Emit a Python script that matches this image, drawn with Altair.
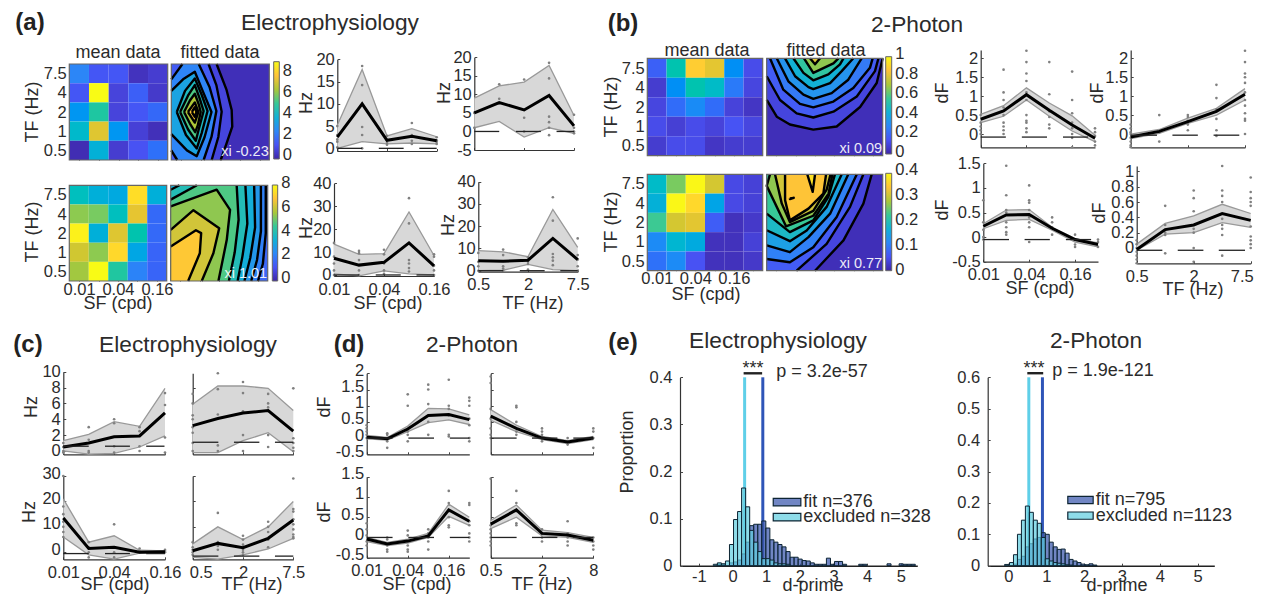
import altair as alt
import pandas as pd

PAD = 8
W, H = 1246, 586
FONT = "Liberation Sans"
TXT = "#2b2b2b"
TICK = 16.5

# ---------------- colour map (parula stops) ----------------
PARULA = ["#3e26a8", "#4852f4", "#2d87f7", "#12b1d6", "#37c897", "#abc739", "#fec338", "#f9fb15"]


def parula(t):
    t = max(0.0, min(1.0, t)) * 7
    i = min(int(t), 6)
    f = t - i
    a, b = PARULA[i], PARULA[i + 1]
    c = [round(int(a[k:k + 2], 16) * (1 - f) + int(b[k:k + 2], 16) * f) for k in (1, 3, 5)]
    return "#%02x%02x%02x" % tuple(c)


# ---------------- heat maps: rows top (7.5 Hz) to bottom (0.5 Hz) ----------------
A1_MEAN = [[2.2, 1.0, 1.0, 0.0, 0.3], [1.0, 8.8, 0.5, 1.2, 0.2], [2.6, 4.7, 0.5, 1.0, 1.4],
           [3.9, 7.0, 2.6, 0.4, -0.1], [-0.2, 3.5, 0.3, 0.9, 1.6]]
A2_MEAN = [[3.75, 3.1, 2.9, 7.2, 3.1], [5.2, 5.0, 3.75, 6.3, 1.3], [7.6, 3.1, 6.2, 4.0, 1.3],
           [6.0, 5.2, 7.1, 2.8, 1.2], [5.4, 7.8, 4.2, 1.9, 1.2]]
B1_MEAN = [[0.15, 0.5, 0.85, 0.78, 0.28, 0.1], [0.05, 0.28, 0.5, 0.45, 0.22, 0.08],
           [0.08, 0.18, 0.27, 0.18, 0.07, 0.03], [0.1, 0.06, 0.1, 0.07, 0.12, 0.08],
           [0.05, 0.1, 0.1, 0.03, 0.05, 0.05]]
B2_MEAN = [[0.18, 0.25, 0.38, 0.3, 0.04, 0.03], [0.16, 0.38, 0.35, 0.14, 0.04, 0.03],
           [0.22, 0.3, 0.31, 0.06, 0.01, 0.02], [0.11, 0.17, 0.15, 0.01, 0.01, 0.03],
           [0.08, 0.11, 0.05, 0.01, 0.01, 0.02]]
TF_LABELS = ["0.5", "1", "2", "4", "7.5"]
SF_LABELS = ["0.01", "0.04", "0.16"]
TF3_LABELS = ["0.5", "2", "7.5"]

# ---------------- fitted contours: (colour level, closed outline in SF/TF grid units) ----------------
A1_FIT = [
    (0.10, [(0, 0), (0, 5), (2.31, 5), (2.82, 3.65), (3.08, 2.6), (3.11, 1.74), (2.82, .87), (2.52, 0)]),
    (0.17, [(0, 0), (0, 5), (1.9, 5), (2.3, 3.9), (2.57, 2.52), (2.4, 1.2), (2.06, 0)]),
    (0.28, [(0, .5), (0, 4.2), (.57, 5), (1.4, 5), (1.95, 3.8), (2.3, 2.55), (2.05, 1.2), (1.65, 0), (.3, 0)]),
    (0.38, [(0, 1.35), (0, 3.6), (.6, 4.2), (1.2, 4.6), (1.6, 3.6), (2.05, 2.5), (1.7, 1.2), (1.3, .2), (.8, .5)]),
    (0.48, [(.28, 2.5), (.7, 3.6), (1.2, 4.25), (1.55, 3.4), (1.85, 2.55), (1.55, 1.4), (1.3, .6), (.75, 1.3)]),
    (0.60, [(.45, 2.5), (.85, 3.35), (1.2, 3.9), (1.45, 3.2), (1.65, 2.55), (1.4, 1.6), (1.25, 1.0), (.85, 1.6)]),
    (0.72, [(.65, 2.5), (.95, 3.1), (1.2, 3.45), (1.4, 2.9), (1.5, 2.5), (1.35, 1.8), (1.22, 1.45), (.95, 1.9)]),
    (0.85, [(.85, 2.5), (1.2, 3.0), (1.38, 2.5), (1.2, 1.95)]),
    (0.90, [(1.05, 2.5), (1.2, 2.75), (1.28, 2.5), (1.2, 2.25)]),
]
A2_FIT = [
    (0.27, [(0, 0), (0, 5), (4.9, 5), (4.9, 2.5), (4.75, .9), (4.5, 0)]),
    (0.34, [(0, 0), (0, 5), (4.65, 5), (4.65, 2.6), (4.45, 1.1), (4.15, 0)]),
    (0.42, [(0, 0), (0, 5), (4.3, 5), (4.35, 2.8), (4.1, 1.2), (3.8, 0)]),
    (0.50, [(0, 0), (0, 4.77), (.45, 5), (3.85, 5), (3.95, 3), (3.7, 1.3), (3.45, 0)]),
    (0.60, [(0, 0), (0, 4.25), (1.35, 5), (3.4, 5), (3.5, 3.2), (3.3, 1.5), (3.0, 0)]),
    (0.68, [(0, 0), (0, 3.9), (2.37, 4.77), (3.06, 3.72), (2.89, 2.15), (2.46, 0)]),
    (0.78, [(0, 0), (0, 2.67), (1.17, 3.7), (2.5, 2.76), (2.2, 1.45), (1.6, 0)]),
    (0.87, [(0, 0), (0, 1.8), (1.3, 2.65), (1.57, 2.5), (1.5, 1.45), (.9, 0)]),
]
B1_FIT = [
    (0.10, [(0, 5), (0, 2.86), (.52, 2.0), (1.2, 1.6), (2.41, 1.34), (3.62, 1.5), (4.83, 2.5), (5.69, 3.73), (6, 5)]),
    (0.17, [(0, 5), (0, 4.08), (.69, 2.86), (1.55, 2.17), (2.41, 1.96), (3.45, 2.26), (4.66, 3.04), (5.6, 4.34), (5.78, 5)]),
    (0.25, [(.17, 5), (.86, 3.39), (1.72, 2.66), (2.41, 2.48), (3.45, 2.78), (4.48, 3.47), (5.34, 4.51), (5.48, 5)]),
    (0.33, [(.52, 5), (1.12, 3.82), (1.9, 3.13), (2.41, 2.92), (3.36, 3.21), (4.22, 3.9), (4.91, 5)]),
    (0.43, [(.95, 5), (1.47, 4.08), (2.16, 3.52), (2.41, 3.42), (3.28, 3.73), (3.88, 4.34), (4.48, 5)]),
    (0.55, [(1.38, 5), (1.9, 4.25), (2.41, 3.87), (3.19, 4.17), (3.79, 4.69), (3.97, 5)]),
    (0.68, [(1.93, 5), (2.41, 4.25), (3.45, 4.74), (3.71, 5)]),
    (0.80, [(2.24, 5), (2.5, 4.69), (2.76, 5)]),
]
B2_FIT = [
    (0.10, [(0, 0), (2.5, 0), (3.97, 1.57), (5.0, 3.48), (5.43, 5), (0, 5)]),
    (0.17, [(0, 0), (1.55, 0), (3.1, 1.39), (4.31, 3.31), (5, 5), (0, 5)]),
    (0.27, [(0, .61), (1.2, .44), (2.41, 1.22), (3.62, 2.79), (4.66, 5), (0, 5)]),
    (0.37, [(0, 1.31), (1.2, .96), (2.16, 1.74), (3.28, 2.96), (4.22, 5), (0, 5)]),
    (0.47, [(0, 2.1), (1.2, 1.53), (2.07, 2.09), (3.1, 3.31), (3.88, 5), (0, 5)]),
    (0.57, [(0, 2.96), (1.2, 2), (2.41, 2.61), (3.19, 3.83), (3.53, 5), (0, 5)]),
    (0.68, [(.17, 5), (0, 4.4), (1, 2.3), (2.41, 2.85), (3.2, 4), (3.4, 5)]),
    (0.78, [(.43, 5), (.78, 3.48), (1.2, 2.52), (2.41, 3.1), (3.1, 4.2), (3.3, 5)]),
    (0.86, [(.95, 5), (.95, 3.66), (1.2, 2.61), (2.16, 3.22), (2.93, 4.0), (3.07, 5)]),
    (0.93, [(2.1, 5), (2.38, 4.09), (2.5, 5)]),
    (0.86, [(1.2, 3.75), (1.4, 3.78), (1.2, 3.72)]),
]

# ---------------- tuning curves ----------------
LINES = {
    "a3": dict(box=(337.3, 436.7, 151, 59.3), dom=(-.6, 20), ticks=[0, 5, 10, 15, 20], n=5,
               mean=[2.5, 10, 1.8, 2.7, 1.7], up=[5.2, 17.7, 2.8, 4.4, 2.6], lo=[0, 1.5, 1.0, 1.2, 1.0],
               dots=[[5, 3, 2, 1.5, .2], [18.5, 14.2, 4.8, 3, 0], [2.8, 1.8, 1.2, .8], [5.7, 3, 1.7, 1], [2.5, 1.8, 1.5, 1]],
               dash=[(0, 1), (1.67, 2.67), (3.3, 4)], dy=0),
    "a4": dict(box=(474.3, 574, 150, 57.3), dom=(-5, 20), ticks=[-5, 0, 5, 10, 15, 20], n=5,
               mean=[5, 7.8, 5.8, 9.7, 1.5], up=[9, 12.3, 13.3, 17.8, 4.3], lo=[1, 2.7, -1.5, 1, -.5],
               dots=[[5, 1], [12.7, 8.8, 7.5], [14, 3.7, 0], [18.5, 14.3, 4, 2.5, 1, -1], [4.5, 1, -.5, 0]],
               dash=[(0, 1), (1.67, 2.67), (3.3, 4)], dy=0),
    "a5": dict(box=(334, 434, 276, 183.3), dom=(-.45, 40), ticks=[0, 10, 20, 30, 40], n=5, xl=SF_LABELS,
               mean=[7.3, 4.3, 5.5, 14, 4], up=[13.5, 9, 9.3, 27.5, 8.5], lo=[.5, -.4, 1.8, .5, 0],
               dots=[[14, 8, 5, 2, 0], [10.5, 9.5, 6.5, 2, 0], [11, 9, 5, 2, .5], [33.5, 22.5, 6.5, 5, 3, 1.5], [9, 8, 4, 2, 0]],
               dash=[(0, 1), (1.67, 2.67), (3.3, 4)], dy=0),
    "a6": dict(box=(478.3, 577.7, 271.7, 181.7), dom=(-.45, 40), ticks=[0, 10, 20, 30, 40], n=5, xl=TF3_LABELS,
               mean=[4.5, 4.3, 4.7, 14.5, 5], up=[9, 8.5, 6.3, 27.5, 10.5], lo=[0, .2, 2.8, .5, 0],
               dots=[[8, 4, 2, 0], [9.5, 7, 2, 1, 0], [6, 4, 3, .5], [33, 22.5, 7.5, 6, 4.5, 2.5], [14.5, 7, 5, 2, 0]],
               dash=[(0, 1), (1.67, 2.67), (3.3, 4)], dy=0),
    "b3": dict(box=(980.7, 1095, 147.3, 50), dom=(-.35, 2.22), ticks=[0, .5, 1, 1.5, 2], n=6,
               mean=[.39, .61, 1.04, .63, .24, -.11], up=[.52, .75, 1.22, .82, .48, -.03], lo=[.3, .47, .9, .47, .08, -.2],
               dots=[[.5, .3, .2, .1, 0], [1.7, 1.1, .9, .7, .5, .3, .2, .1, 0], [2.2, 1.9, 1.6, 1.4, 1.1, .9, .5, .35, .3, .15, .05],
                     [1.9, 1.05, .6, .45, .25, .15], [1.65, .9, .55, .3, .15, 0, -.1, -.35], [.15, .05, -.05, -.2, -.3]],
               dash=[(0, 1.1), (1.8, 2.9), (3.6, 4.7)], dy=-.08),
    "b4": dict(box=(1130.7, 1245, 147.3, 50), dom=(-.35, 2.22), ticks=[0, .5, 1, 1.5, 2], n=5,
               mean=[-.08, .07, .33, .6, 1.05], up=[0, .12, .42, .68, 1.2], lo=[-.12, .02, .28, .5, .9],
               dots=[[.25, .15, .05, 0, -.1, -.2, -.3, -.35], [.5, .05, -.2], [.5, .45, .35, .3, .25, .1],
                     [1.3, .95, .65, .4, .1, -.05], [2.2, 1.9, 1.6, 1.5, 1.35, 1.1, .9, .75, .55, .4, .35, 0]],
               dash=[(0, .92), (1.46, 2.35), (2.9, 3.8)], dy=-.03),
    "b5": dict(box=(983.3, 1098, 261.7, 163.3), dom=(-.5, 1.5), ticks=[-.5, 0, .5, 1, 1.5], n=6, xl=SF_LABELS,
               mean=[.22, .45, .46, .18, -.05, -.15], up=[.27, .55, .56, .2, -.03, -.12], lo=[.17, .34, .36, .14, -.1, -.2],
               dots=[[.75, .3, .15, 0, -.05], [1.45, .85, .55, .5, .3, .2, .1, .05], [1.05, .75, .7, .55, .4, .3, .2, -.1],
                     [.4, .3, .2, .05], [.05, -.05, -.15, -.2], [-.05, -.1, -.2]],
               dash=[(0, 1.12), (1.8, 2.9), (3.6, 4.7)], dy=-.05),
    "b6": dict(box=(1136.7, 1250.7, 263.3, 166), dom=(-.2, 1.07), ticks=[0, .2, .4, .6, .8, 1], n=5, xl=["0.5", "2", ""],
               extra=(4, "7.5", -9),
               mean=[-.02, .24, .3, .45, .36], up=[.05, .32, .42, .57, .45], lo=[-.03, .18, .2, .33, .27],
               dots=[[.1, .05, 0, -.05, -.1, -.15, -.2], [.55, .3, .2, .17, -.07], [.75, .65, .48, .25, .2, 0, -.18],
                     [1.07, .75, .68, .6, .38, .3, .25, .17, -.1], [.92, .73, .65, .6, .55, .28, .15, .1, .05, 0]],
               dash=[(0, .9), (1.44, 2.34), (2.88, 3.8)], dy=-.03),
    "c1": dict(box=(63.3, 165, 454.3, 371.7), dom=(-.42, 10), ticks=[0, 2, 4, 6, 8, 10], n=5,
               mean=[.5, 1, 1.8, 1.9, 4.8], up=[1.3, 2.1, 3.7, 3.1, 7.9], lo=[0, -.4, -.3, .5, 1.9],
               dots=[[1, .5, 0, -.2], [3, 1.4, 0, -.2], [4, 3.5, .6, -.2], [3, 2.5, .6, 0], [7.3, 5.8, 1.7, -.2]],
               dash=[(0, 1), (1.64, 2.62), (3.26, 3.98)], dy=.6),
    "c2": dict(box=(192.7, 293.3, 454.3, 373.3), dom=(-.42, 9.8), ticks=[0, 2, 4, 6, 8], n=5, nolab=True,
               mean=[3.2, 4.1, 4.8, 5.1, 2.5], up=[5.9, 8.2, 8.2, 7.9, 5.1], lo=[-.2, -.2, 1.3, 2.3, -.1],
               dots=[[7.2, 6, 4.5, 4, 3, 2.3, 1, 0], [9.8, 7.8, 4.6, .7, 0], [8.7, 7.3, 5, 2, 0], [7.2, 6, 5.5, 2, .5], [7.9, 1.6, 1, .4, 0]],
               dash=[(0, 1.02), (1.64, 2.65), (3.27, 4)], dy=1.1),
    "c3": dict(box=(63.3, 165, 559.3, 476), dom=(-2.75, 30), ticks=[0, 10, 20, 30], n=5, xl=SF_LABELS, lo_off=-3,
               mean=[13.5, 1.5, 2, 0, .2], up=[21, 4, 6.5, .8, .6], lo=[6, -1, -2.7, -.3, -.2],
               dots=[[30, 18, 15, 12, 10, 8, 6], [4, 2, 0, -2], [11, 2, 0, -2], [1.5, .5, 0], [1, .5, 0]],
               dash=[(0, 1), (1.64, 2.62), (3.26, 4)], dy=-.5),
    "c4": dict(box=(192.7, 293.3, 559.3, 476), dom=(-2.75, 30), ticks=[0, 10, 20, 30], n=5, xl=["", "2", "7.5"], nolab=True,
               extra=(0, "0.5", 8),
               mean=[.6, 3.5, 1.8, 5.5, 12.7], up=[3.3, 10, 5, 10, 20], lo=[-2, -2.7, -1, 1.3, 5.5],
               dots=[[4, 2, 1, 0, -1], [15.5, 4, 2.5, 1], [6.5, 5, 3, 1, 0, -1], [12, 10, 8, 5, 2], [29, 17, 16, 13, 11, 9, 7, 6, 5.5]],
               dash=[(0, 1.02), (1.64, 2.65), (3.27, 4)], dy=-1.5),
    "d1": dict(box=(366.7, 469.3, 454.3, 373.3), dom=(-.5, 2), ticks=[-.5, 0, .5, 1, 1.5, 2], n=6, lo_off=-3,
               mean=[.03, -.02, .28, .7, .73, .57], up=[.08, .02, .37, .92, .9, .72], lo=[-.02, -.06, .2, .48, .56, .42],
               dots=[[.4, .3, .2, .1, 0], [.15, .1, 0, -.1, -.3], [1.35, 1, .2, .1, -.1], [1.65, 1.5, 1.05, .5, .1],
                     [1.8, 1, .9, .7, .1, .05], [1.25, 1.15, 1, .6, .4, 0, -.1]],
               dash=[(0, 1.26), (2.03, 3.28), (4.05, 5)], dy=0),
    "d2": dict(box=(490.7, 593.3, 454.3, 373.3), dom=(-.5, 2), ticks=[-.5, 0, .5, 1, 1.5, 2], n=5, nolab=True,
               mean=[.68, .3, 0, -.12, 0], up=[.88, .4, .05, -.08, .05], lo=[.55, .2, -.05, -.17, -.05],
               dots=[[1.9, 1.7, .9, .6, .3, .1, 0], [1, .95, .5, .2, .1], [.3, .2, .1, 0, -.1], [0, -.1, -.2], [.3, .2, 0, -.3]],
               dash=[(0, 1.01), (1.61, 2.6), (3.22, 4)], dy=0),
    "d3": dict(box=(366.7, 469.3, 557.7, 476.7), dom=(-.5, 1.5), ticks=[-.5, 0, .5, 1, 1.5], n=6, xl=SF_LABELS, lo_off=-3,
               mean=[-.04, -.16, -.09, .04, .68, .4], up=[0, -.12, -.04, .1, .82, .5], lo=[-.1, -.2, -.14, 0, .52, .3],
               dots=[[.35, .2, .05, -.1, -.2], [0, -.05, -.2, -.3, -.35], [.17, .05, -.1, -.2, -.3, -.35], [.2, .1, 0, -.1, -.3],
                     [1.15, .85, .65, .5, .3, .25], [.85, .8, .4, .3, .1, 0, -.1]],
               dash=[(0, 1.26), (2.03, 3.28), (4.05, 5)], dy=0),
    "d4": dict(box=(490.7, 593.3, 557.7, 476.7), dom=(-.5, 1.5), ticks=[-.5, 0, .5, 1, 1.5], n=5, nolab=True,
               xl=["0.5", "2", "8"],
               mean=[.33, .68, .1, .06, -.07], up=[.42, .8, .18, .12, 0], lo=[.22, .5, .04, 0, -.12],
               dots=[[1.45, .3, .2, .1, 0, -.1, -.2], [1.15, .85, .65, .35, .3], [.2, .1, 0, -.1], [.4, .1, 0, -.1, -.2], [0, -.1, -.2, -.3]],
               dash=[(0, 1.01), (1.61, 2.6), (3.22, 4)], dy=0),
}

# ---------------- histograms ----------------
E1_EDGE_W = .12
E1_EXC = [(-.57, .003), (-.45, .006), (-.33, .004), (-.21, .01), (-.09, .045), (.03, .098), (.15, .115), (.27, .165),
          (.39, .125), (.51, .075), (.63, .05), (.75, .03), (.87, .015), (.99, .015), (1.11, .012), (1.23, .006),
          (1.35, .004), (1.47, .004), (1.59, .003)]
E1_FIT = [(-.45, .003), (-.33, .003), (-.09, .006), (.03, .008), (.15, .012), (.27, .025), (.39, .05), (.51, .085),
          (.63, .088), (.75, .088), (.87, .095), (.99, .08), (1.11, .055), (1.23, .05), (1.35, .045), (1.47, .04),
          (1.59, .03), (1.71, .018), (1.83, .018), (1.95, .014), (2.07, .011), (2.19, .01), (2.31, .006), (2.43, .003),
          (2.55, .003), (2.67, .003), (2.79, .016), (2.91, .003), (3.03, .009), (3.15, .009), (3.27, .003), (3.75, .003),
          (3.87, .003), (4.59, .004), (4.95, .004), (5.07, .003), (5.19, .003), (5.31, .003)]
E2_EDGE_W = .105
E2_EXC = [(-.1, .004), (.03, .01), (.135, .035), (.24, .10), (.345, .145), (.45, .19), (.555, .17), (.66, .145),
          (.765, .135), (.87, .09), (.975, .022), (1.08, .015), (1.185, .01), (1.29, .008), (1.395, .006), (1.5, .003),
          (1.605, .002)]
E2_FIT = [(.135, .005), (.24, .02), (.345, .03), (.45, .06), (.555, .07), (.66, .085), (.765, .09), (.87, .105),
          (.975, .1), (1.08, .075), (1.185, .06), (1.29, .052), (1.395, .053), (1.5, .04), (1.605, .02), (1.71, .015),
          (1.815, .01), (1.92, .005), (2.025, .003), (2.13, .006), (2.235, .002)]

# ---------------- free text: text, x, y, size, weight, angle ----------------
TEXTS = [
    ("(a)", 30, 23, 24, "bold", 0), ("(b)", 623, 24, 24, "bold", 0), ("(c)", 28, 345, 24, "bold", 0),
    ("(d)", 349, 345, 24, "bold", 0), ("(e)", 623, 343, 24, "bold", 0),
    ("Electrophysiology", 330, 23, 22.7, "normal", 0), ("2-Photon", 917, 25, 22.7, "normal", 0),
    ("Electrophysiology", 188, 345, 22.7, "normal", 0), ("2-Photon", 472, 345, 22.7, "normal", 0),
    ("Electrophysiology", 778, 341, 22.7, "normal", 0), ("2-Photon", 1096, 341, 22.7, "normal", 0),
    ("mean data", 118, 53, 18, "normal", 0), ("fitted data", 220, 53, 18, "normal", 0),
    ("mean data", 707, 51, 18, "normal", 0), ("fitted data", 826, 51, 18, "normal", 0),
    ("TF (Hz)", 33, 112, 18, "normal", 270), ("TF (Hz)", 33, 232, 18, "normal", 270),
    ("TF (Hz)", 612, 107, 18, "normal", 270), ("TF (Hz)", 612, 222, 18, "normal", 270),
    ("SF (cpd)", 118, 304, 18, "normal", 0), ("SF (cpd)", 706, 295, 18, "normal", 0),
    ("Hz", 307, 103, 18, "normal", 270), ("Hz", 445, 93, 18, "normal", 270),
    ("Hz", 307, 228, 18, "normal", 270), ("Hz", 449, 225, 18, "normal", 270),
    ("SF (cpd)", 388, 304, 18, "normal", 0), ("TF (Hz)", 533, 304, 18, "normal", 0),
    ("dF", 943, 93, 18, "normal", 270), ("dF", 1098, 93, 18, "normal", 270),
    ("dF", 943, 210, 18, "normal", 270), ("dF", 1100, 213, 18, "normal", 270),
    ("SF (cpd)", 1040, 289, 18, "normal", 0), ("TF (Hz)", 1193, 290, 18, "normal", 0),
    ("Hz", 32, 407, 18, "normal", 270), ("Hz", 30, 512, 18, "normal", 270),
    ("SF (cpd)", 115, 585, 18, "normal", 0), ("TF (Hz)", 252, 585, 18, "normal", 0),
    ("dF", 325, 407, 18, "normal", 270), ("dF", 325, 512, 18, "normal", 270),
    ("SF (cpd)", 417, 585, 18, "normal", 0), ("TF (Hz)", 542, 585, 18, "normal", 0),
    ("Proportion", 628, 452, 18, "normal", 270), ("d-prime", 813, 586, 18, "normal", 0),
    ("d-prime", 1117, 586, 18, "normal", 0),
    ("p = 3.2e-57", 822, 372, 18, "normal", 0), ("p = 1.9e-121", 1103, 371, 18, "normal", 0),
    ("***", 753, 369, 18, "normal", 0), ("***", 1034, 369, 18, "normal", 0),
]


# ---------------- helpers ----------------
def lab_expr(vals, labs):
    e = "''"
    for v, l in zip(vals, labs):
        e = f"datum.value == {v} ? '{l}' : " + e
    return e


def pos_x(field, x0, x1, dom, axis=None):
    return alt.X(f"{field}:Q", scale=alt.Scale(domain=list(dom), range=[x0 - PAD, x1 - PAD], nice=False, zero=False),
                 axis=axis, title=None)


def pos_y(field, y_bot, y_top, dom, axis=None):
    return alt.Y(f"{field}:Q", scale=alt.Scale(domain=list(dom), range=[y_bot - PAD, y_top - PAD], nice=False, zero=False),
                 axis=axis, title=None)


def x_axis(y, values, labels=None, **k):
    kw = dict(orient="bottom", offset=-(H - (y - PAD)), values=values, grid=False, title=None, ticks=False,
              labelFont=FONT, labelFontSize=TICK, labelColor=TXT, labelPadding=5, labelOverlap=False, labelFlush=False,
              labelBound=False, domainColor="#444", labelAngle=0)
    kw.update(k)
    if labels:
        kw["labelExpr"] = lab_expr(values, labels)
    else:
        kw["labels"] = False
    return alt.Axis(**kw)


def y_axis(x, values, labels=None, **k):
    kw = dict(orient="left", offset=-(x - PAD), values=values, grid=False, title=None, ticks=False,
              labelFont=FONT, labelFontSize=TICK, labelColor=TXT, labelPadding=3, labelOverlap=False, labelFlush=False,
              labelBound=False, domainColor="#444")
    kw.update(k)
    if labels:
        kw["labelExpr"] = lab_expr(values, labels)
    else:
        kw["labels"] = False
    return alt.Axis(**kw)


def axes_only(box, xd, yd, xa, ya):
    """A top-level layer that carries nothing but the axes of a panel."""
    x0, x1, y_bot, y_top = box
    df = pd.DataFrame([dict(x=xd[0], y=yd[0])])
    return alt.Chart(df).mark_point(opacity=0).encode(
        x=pos_x("x", x0, x1, xd, xa), y=pos_y("y", y_bot, y_top, yd, ya))


def inward_ticks(box, xd, yd, xv, yv, size=2.5):
    """Short ticks pointing into the plot: two label-less axes moved inward by the tick length."""
    x0, x1, y_bot, y_top = box
    xa = alt.Axis(orient="bottom", offset=-(H - (y_bot - size - PAD)), values=xv, grid=False, title=None, labels=False,
                  domain=False, tickSize=size, tickColor="#444", tickWidth=1)
    ya = alt.Axis(orient="left", offset=-(x0 + size - PAD), values=yv, grid=False, title=None, labels=False,
                  domain=False, tickSize=size, tickColor="#444", tickWidth=1)
    return axes_only(box, xd, yd, xa, ya)


def heat(box, rows, dom, xlabels, ylabels=TF_LABELS):
    x0, x1, y_bot, y_top = box
    nx, ny = len(rows[0]), len(rows)
    recs = [dict(x=i, x2=i + 1, y=ny - 1 - j, y2=ny - j, v=v) for j, r in enumerate(rows) for i, v in enumerate(r)]
    stops = [dom[0] + (dom[1] - dom[0]) * i / 7 for i in range(8)]
    xv = [.5, 2.5, 4.5]
    yv = [j + .5 for j in range(ny)]
    xa = x_axis(y_bot, xv, xlabels, domain=False, labelPadding=0)
    ya = y_axis(x0, yv, ylabels, domain=False)
    cells = alt.Chart(pd.DataFrame(recs)).mark_rect().encode(
        x=pos_x("x", x0, x1, (0, nx)), x2="x2:Q",
        y=pos_y("y", y_bot, y_top, (0, ny)), y2="y2:Q",
        color=alt.Color("v:Q", scale=alt.Scale(domain=stops, range=PARULA), legend=None))
    return [alt.layer(cells, frame(box, nx, ny)), axes_only(box, (0, nx), (0, ny), xa, ya),
            inward_ticks(box, (0, nx), (0, ny), [.5 + i for i in range(nx)], yv)]


def frame(box, nx, ny):
    x0, x1, y_bot, y_top = box
    return alt.Chart(pd.DataFrame([dict(x=0, x2=nx, y=0, y2=ny)])).mark_rect(
        fillOpacity=0, stroke="#666", strokeWidth=1.2).encode(
        x=pos_x("x", x0, x1, (0, nx)), x2="x2:Q", y=pos_y("y", y_bot, y_top, (0, ny)), y2="y2:Q")


def fit(box, polys, nx, bg, xi, xi_v):
    x0, x1, y_bot, y_top = box
    ny = 5
    xv = [.5 + i for i in range(nx)]
    yv = [j + .5 for j in range(ny)]
    X = lambda f, a=None: pos_x(f, x0, x1, (0, nx), a)
    Y = lambda f, a=None: pos_y(f, y_bot, y_top, (0, ny), a)
    base = alt.Chart(pd.DataFrame([dict(x=0, x2=nx, y=0, y2=ny)])).mark_rect(color=parula(bg)).encode(
        x=X("x"), x2="x2:Q", y=Y("y"), y2="y2:Q")
    layers = [base]
    strokes = []
    pid = 0
    for t, pts in polys:
        df = pd.DataFrame([dict(x=p[0], y=p[1], o=i) for i, p in enumerate(pts)])
        layers.append(alt.Chart(df).mark_line(fill=parula(t), strokeWidth=0, strokeOpacity=0).encode(
            x=X("x"), y=Y("y"), order="o:Q"))
        closed = list(pts) + [pts[0]]
        o = 0
        pid += 1
        for p, q in zip(closed[:-1], closed[1:]):
            same = (p[0] == q[0] and p[0] in (0, nx)) or (p[1] == q[1] and p[1] in (0, ny))
            if same:
                pid += 1
                continue
            strokes.append(dict(x=p[0], y=p[1], o=o, piece=pid))
            strokes.append(dict(x=q[0], y=q[1], o=o + 1, piece=pid))
            o += 2
    layers.append(alt.Chart(pd.DataFrame(strokes)).mark_line(
        color="black", strokeWidth=2.4, strokeJoin="round").encode(
        x=X("x"), y=Y("y"), detail="piece:N", order="o:Q"))
    layers.append(frame(box, nx, ny))
    layers.append(alt.Chart(pd.DataFrame([dict(x=nx - .03, y=xi_v, t=xi)])).mark_text(
        color="white", align="right", baseline="middle", font=FONT, fontSize=14.5, opacity=.9).encode(
        x=X("x"), y=Y("y"), text="t:N"))
    return [alt.layer(*layers), inward_ticks(box, (0, nx), (0, ny), xv, yv)]


def cbar(box, dom, ticks, labels):
    x0, x1, y_bot, y_top = box
    grad = alt.Gradient(gradient="linear", x1=0, x2=0, y1=1, y2=0,
                        stops=[alt.GradientStop(offset=i / 7, color=c) for i, c in enumerate(PARULA)])
    # the top label can sit a little above the bar, so the scale runs on past it
    top = max(dom[1], ticks[-1])
    y_top2 = y_bot - (y_bot - y_top) * (top - dom[0]) / (dom[1] - dom[0])
    sdom = (dom[0], top)
    ax = alt.Axis(orient="right", offset=-(W - (x1 - PAD)), values=ticks, labelExpr=lab_expr(ticks, labels), grid=False,
                  title=None, tickSize=0, domain=False, labelFont=FONT, labelFontSize=TICK, labelColor=TXT,
                  labelPadding=3, labelOverlap=False, labelFlush=False, labelBound=False)
    df = pd.DataFrame([dict(x=0, x2=1, y=dom[0], y2=dom[1])])
    return [alt.Chart(df).mark_rect(fill=grad, stroke="#666", strokeWidth=1).encode(
        x=pos_x("x", x0, x1, (0, 1)), x2="x2:Q", y=pos_y("y", y_bot, y_top2, sdom, ax), y2="y2:Q")]


def fmt(v):
    return f"{v:g}"


def line_panel(p):
    x0, x1, y_bot, y_top = p["box"]
    n = p["n"]
    xd = (0, n - 1)
    dom = p["dom"]
    X = lambda f: pos_x(f, x0, x1, xd)
    Y = lambda f: pos_y(f, y_bot, y_top, dom)
    xa = x_axis(y_bot, [0, 2, 4], p.get("xl"), domainColor="#333", domainWidth=1.2)
    if p.get("nolab"):
        ya = y_axis(x0, p["ticks"], domainColor="#333", domainWidth=1.2)
    else:
        extra = {"labelOffset": p["lo_off"]} if "lo_off" in p else {}
        ya = y_axis(x0, p["ticks"], [fmt(v) for v in p["ticks"]], domainColor="#333", domainWidth=1.2, **extra)
    df = pd.DataFrame(dict(x=list(range(n)), m=p["mean"], u=p["up"], l=p["lo"]))
    band = alt.Chart(df).mark_area(color="#d8d8d8", opacity=1).encode(x=X("x"), y=Y("u"), y2="l:Q")
    up = alt.Chart(df).mark_line(color="#999999", strokeWidth=1.3).encode(x=X("x"), y=Y("u"))
    lo = alt.Chart(df).mark_line(color="#999999", strokeWidth=1.3).encode(x=X("x"), y=Y("l"))
    dots = pd.DataFrame([dict(x=i, y=v) for i, col in enumerate(p["dots"]) for v in col])
    pts = alt.Chart(dots).mark_circle(color="#808080", size=7, opacity=1).encode(x=X("x"), y=Y("y"))
    mean = alt.Chart(df).mark_line(color="black", strokeWidth=3).encode(x=X("x"), y=Y("m"))
    dash = pd.DataFrame([dict(x=v, y=p["dy"], g=i) for i, d in enumerate(p["dash"]) for v in d])
    dashes = alt.Chart(dash).mark_line(color="#222", strokeWidth=1.3).encode(x=X("x"), y=Y("y"), detail="g:N")
    out = [alt.layer(band, up, lo, pts, mean, dashes), axes_only(p["box"], xd, dom, xa, ya),
           inward_ticks(p["box"], xd, dom, [0, 2, 4], p["ticks"])]
    if "extra" in p:
        val, lab, shift = p["extra"]
        out.append(axes_only(p["box"], xd, dom, x_axis(y_bot, [val], [lab], domain=False, labelOffset=shift), None))
    return out


def hist_panel(box, xdom, ytop, xt, yt, w, fit_bars, exc_bars, vlines, link, leg_x, leg_y, leg_lab, text_x):
    x0, x1, y_bot, y_top = box
    X = lambda f: pos_x(f, x0, x1, xdom)
    Y = lambda f: pos_y(f, y_bot, y_top, (0, ytop))
    xa = x_axis(y_bot, xt, [fmt(v) for v in xt], domainColor="#222", domainWidth=1.6, labelPadding=3)
    ya = y_axis(x0, yt, [fmt(v) for v in yt], domainColor="#333", domainWidth=1.2, labelPadding=8)
    DARK, LIGHT = "#3a57ad", "#62cfe0"
    layers = []
    for v, c in zip(vlines, ["#5fcfe8", "#2f55b8"]):
        g = pd.DataFrame([dict(x=v, y=0, y2=ytop)])
        layers.append(alt.Chart(g).mark_rule(color=c, strokeWidth=3).encode(x=X("x"), y=Y("y"), y2="y2:Q"))

    def bars(data, col):
        df = pd.DataFrame([dict(x=a, x2=a + w, y=0, y2=b) for a, b in data])
        return alt.Chart(df).mark_rect(fill=col, fillOpacity=.72, stroke="#0d2433", strokeWidth=1).encode(
            x=X("x"), x2="x2:Q", y=Y("y"), y2="y2:Q")

    layers += [bars(fit_bars, DARK), bars(exc_bars, LIGHT)]
    sw = pd.DataFrame([dict(x=leg_x[0], x2=leg_x[1], y=leg_y[0][0], y2=leg_y[0][1], c=DARK),
                       dict(x=leg_x[0], x2=leg_x[1], y=leg_y[1][0], y2=leg_y[1][1], c=LIGHT)])
    layers.append(alt.Chart(sw).mark_rect(fillOpacity=.72, stroke="#0d2433", strokeWidth=1.2).encode(
        x=X("x"), x2="x2:Q", y=Y("y"), y2="y2:Q", fill=alt.Fill("c:N", scale=None)))
    tx = pd.DataFrame([dict(x=text_x, y=sum(leg_y[k]) / 2, t=leg_lab[k]) for k in (0, 1)])
    layers.append(alt.Chart(tx).mark_text(align="left", baseline="middle", font=FONT, fontSize=18, color=TXT).encode(
        x=X("x"), y=Y("y"), text="t:N"))
    lk = pd.DataFrame([dict(x=v, y=link[2]) for v in link[:2]])
    layers.append(alt.Chart(lk).mark_line(color="#222", strokeWidth=2.4).encode(x=X("x"), y=Y("y")))
    return [alt.layer(*layers), axes_only(box, xdom, (0, ytop), xa, ya),
            inward_ticks(box, xdom, (0, ytop), xt, yt)]


def free_text(t):
    s, x, y, size, weight, angle = t
    return alt.Chart(alt.Data(values=[{"t": s}])).mark_text(
        font=FONT, fontSize=size, fontWeight=weight, angle=angle, color=TXT if weight == "normal" else "#222",
        align="center", baseline="middle").encode(text="t:N", x=alt.value(x - PAD), y=alt.value(y - PAD))


panels = []
panels += heat((69.3, 167.7, 160, 64), A1_MEAN, (-.4, 8.8), None)
panels += fit((171.3, 269.3, 160, 64), A1_FIT, 5, .03, "xi -0.23", .43)
panels += cbar((273.7, 279.3, 159, 61.7), (-.4, 8.8), [0, 2, 4, 6, 8], ["0", "2", "4", "6", "8"])
panels += heat((69.3, 166.7, 281, 185.3), A2_MEAN, (-.3, 7.8), SF_LABELS)
panels += fit((170.7, 267.7, 281, 185.3), A2_FIT, 5, .2, "xi 1.01", .37)
panels += cbar((272.3, 277.7, 281, 185), (-.3, 7.8), [0, 2, 4, 6, 8], ["0", "2", "4", "6", "8"])
panels += heat((647.3, 762.7, 155.7, 58.3), B1_MEAN, (-.024, .966), None)
panels += fit((766.7, 882.7, 155.7, 58.3), B1_FIT, 6, .03, "xi 0.09", .35)
panels += cbar((885.7, 891.7, 154, 56.7), (-.024, .966), [0, .2, .4, .6, .8, 1], ["0", "0.2", "0.4", "0.6", "0.8", "1"])
panels += heat((647.3, 762.7, 270.7, 174.3), B2_MEAN, (-.005, .384), SF_LABELS)
panels += fit((766.7, 882.7, 270.7, 174.3), B2_FIT, 6, .03, "xi 0.77", .35)
panels += cbar((885.7, 891.7, 270.7, 173.3), (-.005, .384), [0, .1, .2, .3, .4], ["0", "0.1", "0.2", "0.3", "0.4"])
for p in LINES.values():
    panels += line_panel(p)
panels += hist_panel((680, 917.3, 565.7, 377.3), (-1.56, 5.49), .4, [-1, 0, 1, 2, 3, 4, 5], [0, .1, .2, .3, .4], E1_EDGE_W,
                     E1_FIT, E1_EXC, [.36, .9], (.33, .88, .4085), (1.21, 2.03), ((.127, .143), (.095, .111)),
                     ("fit n=376", "excluded n=328"), 2.1)
panels += hist_panel((987.7, 1214.3, 565.7, 377.3), (-.546, 5.44), .6, [0, 1, 2, 3, 4, 5], [0, .1, .2, .3, .4, .5, .6], E2_EDGE_W,
                     E2_FIT, E2_EXC, [.54, .9], (.5, .92, .613), (1.57, 2.24), ((.198, .221), (.148, .171)),
                     ("fit n=795", "excluded n=1123"), 2.31)
panels += [free_text(t) for t in TEXTS]

chart = alt.layer(*panels).resolve_scale(
    x="independent", y="independent", color="independent", fill="independent"
).resolve_axis(x="independent", y="independent").properties(
    width=W, height=H, padding=0, autosize=alt.AutoSizeParams(type="none"), background="white"
).configure_view(stroke=None)

chart.save("out.html", embed_options={"renderer": "svg", "actions": False})
